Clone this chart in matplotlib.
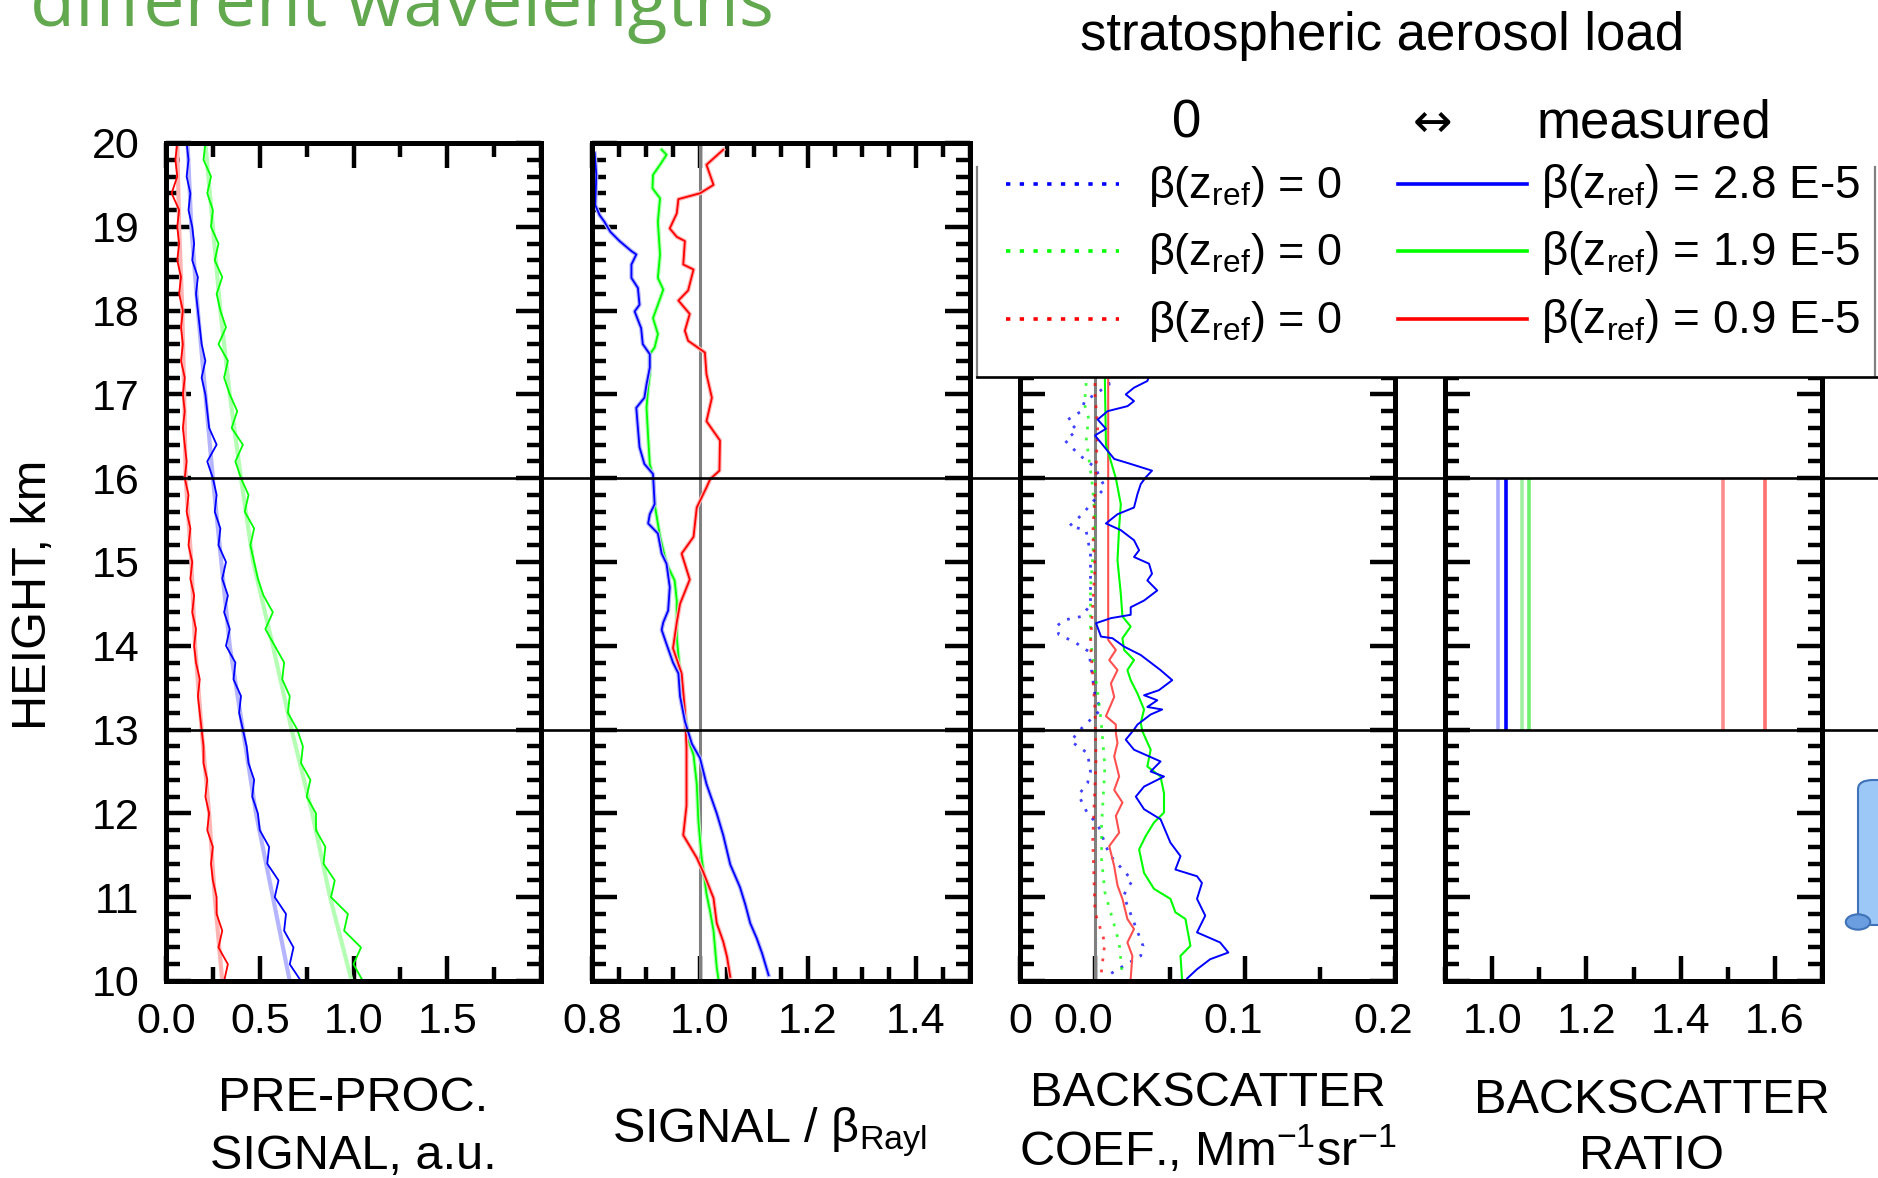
import matplotlib
matplotlib.use("Agg")
import matplotlib.pyplot as plt
import matplotlib.transforms as mtransforms
from matplotlib.lines import Line2D
from matplotlib.patches import Rectangle, FancyBboxPatch, Circle
from matplotlib.ticker import MultipleLocator

plt.rcParams['font.family'] = ['Liberation Sans', 'DejaVu Sans']
plt.rcParams['mathtext.fontset'] = 'custom'
plt.rcParams['mathtext.rm'] = 'Liberation Sans'
plt.rcParams['mathtext.it'] = 'Liberation Sans'
plt.rcParams['mathtext.default'] = 'regular'

# ---------------- data ----------------
# heights, km, of the raw pre-processed signal profiles
height = [10.0, 10.2, 10.4, 10.6, 10.8, 11.0, 11.2, 11.4, 11.6, 11.8,
          12.0, 12.2, 12.4, 12.6, 12.8, 13.0, 13.2, 13.4, 13.6, 13.8,
          14.0, 14.2, 14.4, 14.6, 14.8, 15.0, 15.2, 15.4, 15.6, 15.8,
          16.0, 16.2, 16.4, 16.6, 16.8, 17.0, 17.2, 17.4, 17.6, 17.8,
          18.0, 18.2, 18.4, 18.6, 18.8, 19.0, 19.2, 19.4, 19.6, 19.8, 20.0]
sig_blue = [0.72, 0.66, 0.68, 0.63, 0.64, 0.58, 0.60, 0.54, 0.55, 0.50,
            0.49, 0.46, 0.47, 0.44, 0.43, 0.41, 0.39, 0.40, 0.36, 0.37,
            0.32, 0.34, 0.31, 0.33, 0.30, 0.32, 0.28, 0.29, 0.26, 0.27,
            0.25, 0.22, 0.27, 0.23, 0.22, 0.21, 0.19, 0.21, 0.19, 0.18,
            0.17, 0.16, 0.17, 0.14, 0.15, 0.14, 0.12, 0.13, 0.11, 0.12, 0.11]
sig_green = [1.05, 1.00, 1.04, 0.95, 0.97, 0.88, 0.90, 0.84, 0.85, 0.80,
             0.80, 0.75, 0.77, 0.72, 0.73, 0.70, 0.65, 0.66, 0.62, 0.63,
             0.58, 0.53, 0.57, 0.52, 0.49, 0.47, 0.45, 0.47, 0.42, 0.44,
             0.40, 0.37, 0.41, 0.35, 0.38, 0.34, 0.31, 0.33, 0.28, 0.32,
             0.29, 0.27, 0.30, 0.26, 0.28, 0.24, 0.25, 0.22, 0.24, 0.20, 0.21]
sig_red = [0.31, 0.33, 0.28, 0.30, 0.27, 0.27, 0.25, 0.24, 0.25, 0.22,
           0.23, 0.21, 0.22, 0.20, 0.20, 0.19, 0.18, 0.17, 0.18, 0.16,
           0.15, 0.16, 0.14, 0.15, 0.13, 0.14, 0.12, 0.13, 0.11, 0.12,
           0.10, 0.11, 0.10, 0.09, 0.10, 0.09, 0.10, 0.08, 0.09, 0.08,
           0.09, 0.07, 0.08, 0.06, 0.07, 0.06, 0.07, 0.03, 0.06, 0.05, 0.06]

# smoothed signal (lighter lines)
fit_h = [10, 11, 12, 13, 14, 15, 16, 17, 18, 19, 20]
fit_blue = [0.66, 0.57, 0.48, 0.41, 0.34, 0.295, 0.25, 0.21, 0.17, 0.135, 0.115]
fit_green = [0.99, 0.875, 0.78, 0.67, 0.57, 0.465, 0.40, 0.34, 0.29, 0.25, 0.21]
fit_red = [0.30, 0.26, 0.23, 0.19, 0.155, 0.135, 0.105, 0.097, 0.087, 0.07, 0.06]

# signal / beta_Rayleigh
rr_blue_h = [19.88, 19.62, 19.26, 19.14, 19.06, 18.94, 18.83, 18.71, 18.67, 18.55,
             18.39, 18.27, 18.07, 17.99, 17.79, 17.6, 17.48, 17.32, 17.12, 16.96,
             16.84, 16.6, 16.37, 16.17, 16.05, 15.69, 15.57, 15.46, 15.34, 15.1,
             14.98, 14.7, 14.42, 14.28, 14.19, 14.02, 13.8, 13.67, 13.4, 13.1,
             12.83, 12.66, 12.35, 12.0, 11.74, 11.39, 11.12, 10.91, 10.69, 10.51,
             10.33, 10.07]
rr_blue = [0.805, 0.808, 0.806, 0.814, 0.823, 0.834, 0.851, 0.873, 0.882, 0.873,
           0.873, 0.885, 0.888, 0.879, 0.891, 0.894, 0.907, 0.907, 0.901, 0.897,
           0.882, 0.885, 0.888, 0.897, 0.913, 0.916, 0.907, 0.904, 0.922, 0.929,
           0.938, 0.944, 0.941, 0.932, 0.929, 0.938, 0.95, 0.96, 0.963, 0.972,
           0.985, 1.0, 1.012, 1.031, 1.043, 1.056, 1.074, 1.084, 1.093, 1.105,
           1.115, 1.127]
rr_green_h = [19.92, 19.86, 19.74, 19.62, 19.46, 19.34, 19.06, 18.67, 18.39, 18.25,
              18.07, 17.91, 17.72, 17.56, 17.48, 17.24, 17.08, 16.84, 16.49, 16.17,
              16.01, 15.69, 15.3, 14.98, 14.78, 14.54, 14.1, 13.67, 13.23, 12.88,
              12.7, 12.35, 11.91, 11.47, 11.04, 10.82, 10.6, 10.16, 10.03]
rr_green = [0.929, 0.938, 0.926, 0.913, 0.912, 0.926, 0.922, 0.926, 0.922, 0.932,
            0.922, 0.913, 0.922, 0.916, 0.907, 0.907, 0.904, 0.901, 0.904, 0.907,
            0.913, 0.916, 0.926, 0.938, 0.953, 0.957, 0.957, 0.963, 0.972, 0.978,
            0.988, 0.994, 0.997, 1.003, 1.012, 1.019, 1.025, 1.031, 1.034]
rr_red_h = [19.92, 19.74, 19.5, 19.4, 19.33, 19.16, 18.98, 18.88, 18.83, 18.55,
            18.49, 18.24, 18.12, 17.96, 17.76, 17.64, 17.5, 17.24, 16.96, 16.68,
            16.56, 16.45, 16.09, 15.99, 15.89, 15.65, 15.3, 15.1, 14.79, 14.5,
            14.28, 13.97, 13.67, 13.23, 12.79, 12.09, 11.74, 11.47, 11.30, 10.99,
            10.69, 10.47, 10.29, 10.05]
rr_red = [1.043, 1.012, 1.025, 1.0, 0.96, 0.957, 0.944, 0.957, 0.972, 0.969,
          0.988, 0.978, 0.96, 0.981, 0.972, 0.978, 1.009, 1.012, 1.022, 1.012,
          1.025, 1.037, 1.036, 1.019, 1.012, 0.994, 0.988, 0.966, 0.981, 0.963,
          0.957, 0.95, 0.966, 0.972, 0.975, 0.975, 0.969, 0.994, 1.006, 1.025,
          1.031, 1.043, 1.05, 1.056]

# backscatter coefficient, measured beta(z_ref)
bc_blue_h = [17.4, 17.16, 17.08, 17.0, 16.92, 16.86, 16.8, 16.7, 16.59, 16.51, 16.35,
             16.23, 16.17, 16.09, 16.01, 15.93, 15.81, 15.65, 15.57, 15.46, 15.38,
             15.26, 15.14, 15.06, 14.98, 14.86, 14.78, 14.66, 14.54, 14.46, 14.37,
             14.33, 14.27, 14.11, 14.09, 13.99, 13.89, 13.71, 13.59, 13.47, 13.41,
             13.35, 13.27, 13.24, 13.18, 13.06, 13.0, 12.88, 12.76, 12.62, 12.5,
             12.44, 12.32, 12.2, 12.05, 11.93, 11.65, 11.49, 11.33, 11.25, 11.17,
             10.98, 10.78, 10.58, 10.46, 10.34, 10.26, 10.14, 10.03]
bc_blue = [0.04, 0.0349, 0.026, 0.0205, 0.026, 0.0217, 0.0084, 0.0018, 0.0073, 0.0, 0.0073,
           0.0128, 0.0238, 0.038, 0.0338, 0.0305, 0.0283, 0.026, 0.015, 0.0073, 0.0172,
           0.026, 0.0294, 0.026, 0.036, 0.038, 0.0349, 0.0415, 0.0327, 0.0238, 0.0238,
           0.0106, 0.0007, 0.004, 0.0117, 0.0194, 0.0305, 0.0437, 0.0515, 0.0426, 0.0327,
           0.0415, 0.0349, 0.0448, 0.0371, 0.0283, 0.026, 0.0205, 0.026, 0.0437, 0.0371,
           0.046, 0.0327, 0.0272, 0.0327, 0.0437, 0.0503, 0.057, 0.0536, 0.068, 0.0713,
           0.068, 0.0735, 0.068, 0.0834, 0.0889, 0.0768, 0.068, 0.0614]
bc_green_h = [17.4, 17.16, 16.4, 16.2, 16.0, 15.69, 15.42, 15.02, 14.62, 14.35,
              14.23, 14.09, 13.95, 13.83, 13.71, 13.59, 13.43, 13.24, 13.08, 12.98,
              12.76, 12.56, 12.44, 12.24, 12.01, 11.89, 11.73, 11.57, 11.29, 11.1,
              10.98, 10.82, 10.74, 10.42, 10.3, 10.03]
bc_green = [0.0066, 0.0066, 0.0073, 0.0106, 0.0139, 0.0172, 0.0161, 0.015, 0.0172, 0.0183,
            0.0238, 0.0183, 0.0194, 0.026, 0.0216, 0.0238, 0.0283, 0.0327, 0.0305, 0.0316,
            0.0371, 0.0349, 0.0437, 0.046, 0.046, 0.0393, 0.0338, 0.0294, 0.0327, 0.0393,
            0.0503, 0.0536, 0.0603, 0.0636, 0.057, 0.058]
bc_red_h = [17.4, 14.07, 13.95, 13.83, 13.71, 13.55, 13.39, 13.16, 13.06, 12.96,
            12.84, 12.68, 12.44, 12.28, 12.13, 11.97, 11.77, 11.61, 11.37, 11.14,
            10.98, 10.74, 10.62, 10.46, 10.3, 10.03]
bc_red = [0.0088, 0.0088, 0.0139, 0.0095, 0.015, 0.0106, 0.0128, 0.0073, 0.0139, 0.0139,
          0.015, 0.0128, 0.0161, 0.0128, 0.0183, 0.0139, 0.0161, 0.0095, 0.0128, 0.015,
          0.0183, 0.0216, 0.026, 0.0216, 0.0249, 0.0238]

# backscatter coefficient, beta(z_ref) = 0
bz_blue_h = [17.4, 17.12, 17.0, 16.92, 16.8, 16.7, 16.57, 16.45, 16.27, 16.13,
             15.89, 15.57, 15.43, 15.38, 15.1, 14.49, 14.35, 14.31, 14.23, 14.13,
             14.05, 13.93, 13.79, 13.41, 13.24, 12.98, 12.86, 12.72, 12.5, 12.36,
             12.22, 12.0, 11.87, 11.51, 11.2, 11.02, 10.42, 10.3, 10.18, 10.05]
bz_blue = [0.005, 0.0095, 0.0, -0.007, -0.009, -0.018, -0.012, -0.02, -0.01, 0.0,
           0.0066, -0.0084, -0.017, -0.006, -0.003, -0.003, -0.009, -0.02, -0.026, -0.024,
           -0.014, -0.004, -0.003, 0.0, 0.004, -0.011, -0.016, -0.005, -0.003, -0.005,
           -0.011, -0.005, 0.0018, 0.0095, 0.0249, 0.019, 0.032, 0.0305, 0.019, 0.007]
bz_green_h = [17.4, 17.1, 16.88, 16.7, 16.5, 16.09, 15.89, 15.5, 15.06, 14.66,
              14.07, 13.43, 13.12, 12.56, 11.85, 11.45, 11.06, 10.46, 10.05]
bz_green = [-0.005, -0.006, -0.007, -0.004, -0.006, -0.003, -0.0015, 0.0, -0.0015, -0.003,
            -0.003, 0.0018, 0.004, 0.0066, 0.0044, 0.0044, 0.0066, 0.0161, 0.0183]
bz_red_h = [17.4, 17.0, 16.6, 15.81, 15.34, 14.94, 14.03, 13.24, 12.64, 11.69,
            10.82, 10.46, 10.07]
bz_red = [0.0, 0.0, 0.0018, 0.0, -0.0015, 0.0, -0.003, 0.0, 0.0007, -0.0015,
          0.0, 0.0066, 0.004]

# backscatter ratio in the 13-16 km layer
layer = [13.0, 16.0]
bsr_values = [1.013, 1.029, 1.063, 1.079, 1.49, 1.58]

legend_zero = ['β(z$_{ref}$) = 0', 'β(z$_{ref}$) = 0', 'β(z$_{ref}$) = 0']
legend_meas = ['β(z$_{ref}$) = 2.8 E-5', 'β(z$_{ref}$) = 1.9 E-5', 'β(z$_{ref}$) = 0.9 E-5']

# ---------------- styling ----------------
BLUE, GREEN, RED = '#0000ff', '#00ff00', '#ff0000'
LBLUE, LGREEN, LRED = '#b4b4ff', '#b4ffb4', '#ffb4b4'
bsr_colors = ['#a8a8ff', '#0000ff', '#a0f0a0', '#70f070', '#ff8c8c', '#ff7070']

W, HPX = 1878, 1178
fig = plt.figure(figsize=(W / 100, HPX / 100), dpi=100)


def panel(x0, x1):
    return fig.add_axes([x0 / W, 1 - 981 / HPX, (x1 - x0) / W, (981 - 143) / HPX])


def style(ax, xlim, xmin):
    ax.set_xlim(*xlim)
    ax.set_ylim(10, 20)
    ax.yaxis.set_major_locator(MultipleLocator(1))
    ax.yaxis.set_minor_locator(MultipleLocator(0.2))
    ax.xaxis.set_minor_locator(MultipleLocator(xmin))
    ax.tick_params(which='both', direction='in', top=True, right=True,
                   width=3.2, labelsize=31, pad=15)
    ax.tick_params(which='major', length=18)
    ax.tick_params(which='minor', length=10)
    for s in ax.spines.values():
        s.set_linewidth(3.6)


ax1 = panel(166, 541)
ax2 = panel(592, 970)
ax3 = panel(1020, 1395)
ax4 = panel(1445, 1822)

# panel 1: pre-processed signal
for fit, sig, light, dark in [(fit_red, sig_red, LRED, RED),
                              (fit_blue, sig_blue, LBLUE, BLUE),
                              (fit_green, sig_green, LGREEN, GREEN)]:
    ax1.plot(fit, fit_h, color=light, lw=3.0)
    ax1.plot(sig, height, color=dark, lw=1.3)
style(ax1, (0, 2.0), 0.25)
ax1.set_xticks([0, 0.5, 1.0, 1.5, 2.0], ['0.0', '0.5', '1.0', '1.5', ''])
ax1.tick_params(axis='y', pad=19)
ax1.set_yticks(range(10, 21))

# panel 2: signal / beta Rayleigh
ax2.axvline(1.0, color='#808080', lw=2.2)
for x, h, light, dark in [(rr_green, rr_green_h, LGREEN, GREEN),
                          (rr_red, rr_red_h, LRED, RED),
                          (rr_blue, rr_blue_h, LBLUE, BLUE)]:
    ax2.plot(x, h, color=light, lw=3.0)
    ax2.plot(x, h, color=dark, lw=1.3)
style(ax2, (0.8, 1.5), 0.05)
ax2.set_xticks([0.8, 1.0, 1.2, 1.4], ['0.8', '1.0', '1.2', '1.4'])
ax2.tick_params(axis='y', labelleft=False)

# panel 3: backscatter coefficient
ax3.axvline(0.0, color='#808080', lw=2.2)
for x, h, c in [(bz_blue, bz_blue_h, BLUE), (bz_green, bz_green_h, GREEN),
                (bz_red, bz_red_h, RED)]:
    ax3.plot(x, h, color=c, lw=2, ls=(0, (1, 3)), alpha=0.75)
ax3.plot(bc_red, bc_red_h, color='#ff5050', lw=1.5)
ax3.plot(bc_green, bc_green_h, color=GREEN, lw=1.5)
ax3.plot(bc_blue, bc_blue_h, color=BLUE, lw=1.4)
style(ax3, (-0.05, 0.2), 0.05)
ax3.set_xticks([-0.05, 0.0, 0.1, 0.2], ['0', '0.0', '0.1', '0.2'])
ax3.tick_params(axis='y', labelleft=False)
shift = mtransforms.ScaledTranslation(-0.12, 0, fig.dpi_scale_trans)
for lbl in ax3.get_xticklabels()[1:]:
    lbl.set_transform(lbl.get_transform() + shift)

# panel 4: backscatter ratio
ax4.vlines(bsr_values, layer[0], layer[1], colors=bsr_colors, lw=2.6)
style(ax4, (0.9, 1.7), 0.1)
ax4.set_xticks([1.0, 1.2, 1.4, 1.6], ['1.0', '1.2', '1.4', '1.6'])
ax4.tick_params(axis='y', labelleft=False)

# axis labels
for ax, text, xc, ytop, ls in [(ax1, 'PRE-PROC.\nSIGNAL, a.u.', 0.5, -0.1134, 1.36),
                               (ax2, 'SIGNAL / β$_{Rayl}$', 0.47, -0.1486, 1.2),
                               (ax3, 'BACKSCATTER\nCOEF., Mm$^{-1}$sr$^{-1}$', 0.5, -0.1075, 1.22),
                               (ax4, 'BACKSCATTER\nRATIO', 0.548, -0.1163, 1.29)]:
    ax.set_xlabel(text, fontsize=35, linespacing=ls)
    ax.xaxis.set_label_coords(xc, ytop)
fig.text(34 / W, 1 - 595 / HPX, 'HEIGHT, km', rotation=90, ha='center', va='center',
         fontsize=35)

# layer boundaries drawn across all panels
across = mtransforms.blended_transform_factory(fig.transFigure, ax1.transData)
for h in layer:
    fig.add_artist(Line2D([166 / W, 1.0], [h, h], transform=across, color='black', lw=1.9))

# legend box
fig.add_artist(Rectangle((977 / W, 1 - 377 / HPX), 901 / W, 240 / HPX,
                         transform=fig.transFigure, facecolor='white', edgecolor='none'))
for xe in (977, 1874.5):
    fig.add_artist(Line2D([xe / W, xe / W], [1 - 167 / HPX, 1 - 377 / HPX],
                          transform=fig.transFigure, color='#808080', lw=1.6))
fig.add_artist(Line2D([977 / W, 1.0], [1 - 377 / HPX, 1 - 377 / HPX],
                      transform=fig.transFigure, color='black', lw=1.9))
rows = [184, 251, 319]
for row, c, lz, lm in zip(rows, [BLUE, GREEN, RED], legend_zero, legend_meas):
    yy = 1 - row / HPX
    fig.add_artist(Line2D([1006 / W, 1119 / W], [yy, yy], transform=fig.transFigure,
                          color=c, lw=2.6, ls=(0, (1.2, 2.6))))
    fig.add_artist(Line2D([1398 / W, 1527 / W], [yy, yy], transform=fig.transFigure,
                          color=c, lw=2.6))
    fig.text(1148 / W, 1 - (row + 14) / HPX, lz, fontsize=32.5, va='baseline', ha='left')
    fig.text(1541 / W, 1 - (row + 14) / HPX, lm, fontsize=33, va='baseline', ha='left')

# headings
fig.text(1382 / W, 1 - 50 / HPX, 'stratospheric aerosol load', fontsize=38,
         ha='center', va='baseline')
fig.text(1187 / W, 1 - 137 / HPX, '0', fontsize=38, ha='center', va='baseline')
fig.text(1433 / W, 1 - 124 / HPX, '↔', fontsize=34, ha='center', va='center',
         family=['DejaVu Sans'])
fig.text(1537 / W, 1 - 137 / HPX, 'measured', fontsize=38, ha='left', va='baseline')
fig.text(30 / W, 1 - 26 / HPX, 'different wavelengths', fontsize=53, color='#62a84f',
         ha='left', va='baseline', family=['Open Sans', 'DejaVu Sans'])

# slide scroll icon at the right edge
fig.add_artist(FancyBboxPatch((1858 / W, 1 - 925 / HPX), 40 / W, 145 / HPX,
                              boxstyle='round,pad=0,rounding_size=0.008',
                              transform=fig.transFigure, facecolor='#9cc8f7',
                              edgecolor='#3f72b8', lw=1.5))
fig.add_artist(Circle((1858 / W, 1 - 922 / HPX), 0.0065, transform=fig.transFigure,
                      facecolor='#6a9ee0', edgecolor='#3f72b8', lw=1.5))

fig.savefig('out.png', dpi=100)
